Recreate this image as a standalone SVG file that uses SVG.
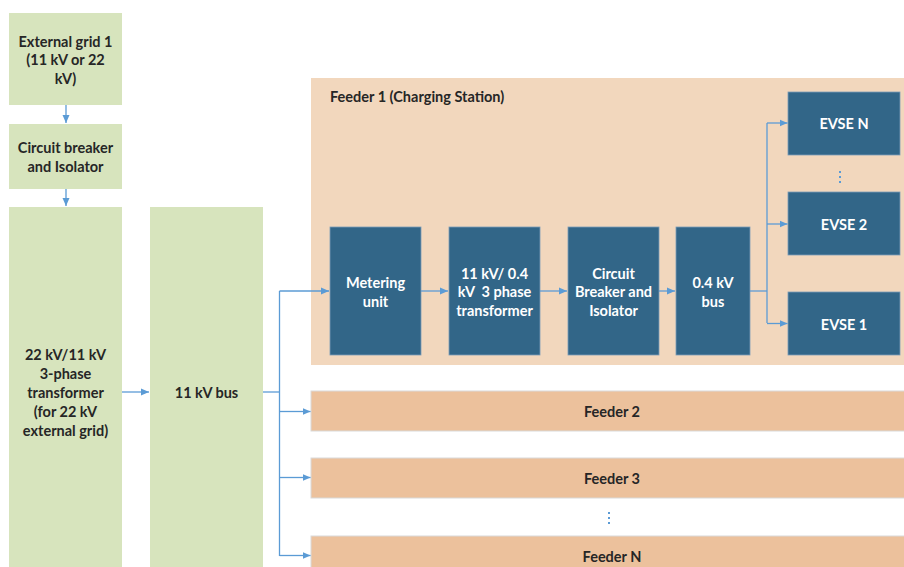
<svg xmlns="http://www.w3.org/2000/svg" width="904" height="567" viewBox="0 0 904 567">
<defs>
<marker id="ah" markerWidth="8" markerHeight="8" refX="8" refY="4" orient="auto" markerUnits="userSpaceOnUse">
<path d="M0,0.5 L8,4 L0,7.5 Z" fill="#5B9BD5"/>
</marker>
<style>
.g{fill:#D7E4BD}
.pk{fill:#F2D7BD}
.fd{fill:#ECC19C;stroke:#D9D9D9;stroke-width:1}
.db{fill:#326688;stroke:#7A9CB8;stroke-width:0.8}
.t{font-family:Lato,"Open Sans","Liberation Sans",sans-serif;font-weight:bold;font-size:14.5px;fill:#262626;text-anchor:middle;dominant-baseline:central}
.w{fill:#FFFFFF}
.c{fill:none;stroke:#5B9BD5;stroke-width:1.3}
.dot{fill:#5B9BD5}
</style>
</defs>
<g id="ext-grid"><rect class="g" x="9" y="13" width="113" height="92"/>
<text class="t" x="65.5" y="41">External grid 1</text><text class="t" x="65.5" y="59.5">(11 kV or 22</text><text class="t" x="65.5" y="78">kV)</text></g>
<g id="cb-iso"><rect class="g" x="9" y="124" width="113" height="65"/>
<text class="t" x="65.5" y="147">Circuit breaker</text><text class="t" x="65.5" y="166">and Isolator</text></g>
<g id="trafo-22-11"><rect class="g" x="9" y="207" width="113" height="362"/>
<text class="t" x="65.5" y="354">22 kV/11 kV</text><text class="t" x="65.5" y="373">3-phase</text><text class="t" x="65.5" y="392">transformer</text><text class="t" x="65.5" y="411">(for 22 kV</text><text class="t" x="65.5" y="430">external grid)</text></g>
<g id="bus-11kv"><rect class="g" x="150" y="207" width="113" height="362"/>
<text class="t" x="206.5" y="392">11 kV bus</text></g>
<g id="feeder1"><rect class="pk" x="311" y="78" width="593" height="287"/>
<text class="t" x="330" y="96" style="text-anchor:start">Feeder 1 (Charging Station)</text></g>
<g id="metering"><rect class="db" x="330" y="227" width="91" height="128"/>
<text class="t w" x="375.5" y="282.5">Metering</text><text class="t w" x="375.5" y="301">unit</text></g>
<g id="trafo-11-04"><rect class="db" x="449" y="227" width="91" height="128"/>
<text class="t w" x="494.5" y="273">11 kV/ 0.4</text><text class="t w" x="494.5" y="291.5">kV&#160; 3 phase</text><text class="t w" x="494.5" y="310">transformer</text></g>
<g id="cb-feeder"><rect class="db" x="568" y="227" width="91" height="128"/>
<text class="t w" x="613.5" y="273">Circuit</text><text class="t w" x="613.5" y="291.5">Breaker and</text><text class="t w" x="613.5" y="310">Isolator</text></g>
<g id="bus-04kv"><rect class="db" x="676" y="227" width="74" height="128"/>
<text class="t w" x="713" y="282.5">0.4 kV</text><text class="t w" x="713" y="301">bus</text></g>
<g id="evse-n"><rect class="db" x="788" y="92" width="112" height="63"/>
<text class="t w" x="844" y="123.5">EVSE N</text></g>
<g id="evse-2"><rect class="db" x="788" y="192" width="112" height="63"/>
<text class="t w" x="844" y="224">EVSE 2</text></g>
<g id="evse-1"><rect class="db" x="788" y="292" width="112" height="63"/>
<text class="t w" x="844" y="324">EVSE 1</text></g>
<g id="evse-dots"><rect class="dot" x="839" y="171" width="2" height="2"/><rect class="dot" x="839" y="176" width="2" height="2"/><rect class="dot" x="839" y="181" width="2" height="2"/></g>
<g id="feeder2"><rect class="fd" x="311" y="391" width="594" height="40"/>
<text class="t" x="612" y="411">Feeder 2</text></g>
<g id="feeder3"><rect class="fd" x="311" y="458" width="594" height="40"/>
<text class="t" x="612" y="478">Feeder 3</text></g>
<g id="feeder-dots"><rect class="dot" x="608" y="512" width="2" height="2"/><rect class="dot" x="608" y="517" width="2" height="2"/><rect class="dot" x="608" y="522" width="2" height="2"/></g>
<g id="feederN"><rect class="fd" x="311" y="536" width="594" height="40"/>
<text class="t" x="612" y="556">Feeder N</text></g>
<g id="connectors">
<path class="c" d="M66,105 V123" marker-end="url(#ah)"/>
<path class="c" d="M66,189 V206" marker-end="url(#ah)"/>
<path class="c" d="M122,392 H149" marker-end="url(#ah)"/>
<path class="c" d="M263,392 H279.5"/>
<path class="c" d="M279.5,291 V556"/>
<path class="c" d="M279.5,291 H329" marker-end="url(#ah)"/>
<path class="c" d="M279.5,411.5 H310.5" marker-end="url(#ah)"/>
<path class="c" d="M279.5,477.5 H310.5" marker-end="url(#ah)"/>
<path class="c" d="M279.5,555.5 H310.5" marker-end="url(#ah)"/>
<path class="c" d="M421,291 H448" marker-end="url(#ah)"/>
<path class="c" d="M540,291 H567" marker-end="url(#ah)"/>
<path class="c" d="M659,291 H675" marker-end="url(#ah)"/>
<path class="c" d="M750,291 H767"/>
<path class="c" d="M767,123 V323"/>
<path class="c" d="M767,123 H787.5" marker-end="url(#ah)"/>
<path class="c" d="M767,224 H787.5" marker-end="url(#ah)"/>
<path class="c" d="M767,323.5 H787.5" marker-end="url(#ah)"/>
</g>
</svg>
